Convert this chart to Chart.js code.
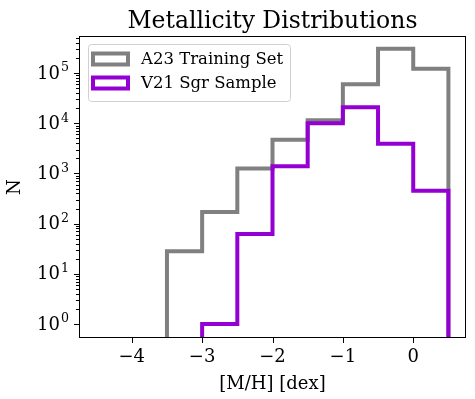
<!DOCTYPE html>
<html>
<head>
<meta charset="utf-8">
<script src="https://cdn.jsdelivr.net/npm/chart.js@4"></script>
<style>
  html, body { margin: 0; padding: 0; background: #fff; }
  #wrap { width: 475px; height: 399px; }
</style>
</head>
<body>
<div id="wrap"><canvas id="c" width="475" height="399"></canvas></div>
<script>
// histogram bins (dex) and counts per bin
const binEdges = [-4.5, -4, -3.5, -3, -2.5, -2, -1.5, -1, -0.5, 0, 0.5];
const a23Counts = [0, 0, 28, 170, 1250, 4700, 11500, 60000, 305000, 122000];
const v21Counts = [0, 0, 0, 1, 62, 1400, 10000, 21000, 3900, 450];
const xTicks = [-4, -3, -2, -1, 0];
const yDecades = [0, 1, 2, 3, 4, 5];

const FONT = "'DejaVu Serif', serif";

// outline of a step histogram, like histtype='step'
function stepPoints(edges, counts) {
  const pts = [];
  let first = counts.findIndex(c => c > 0);
  let last = counts.length - 1;
  while (last > 0 && counts[last] === 0) last--;
  pts.push({ x: edges[first], y: 1e-3 });
  for (let i = first; i <= last; i++) {
    pts.push({ x: edges[i], y: counts[i] || 1e-3 });
    pts.push({ x: edges[i + 1], y: counts[i] || 1e-3 });
  }
  pts.push({ x: edges[last + 1], y: 1e-3 });
  return pts;
}

const frame = {
  id: 'frame',
  afterDraw(chart) {
    const { ctx, chartArea: a, scales } = chart;
    ctx.save();
    // axes box
    ctx.strokeStyle = '#000';
    ctx.lineWidth = 1;
    ctx.strokeRect(a.left + 0.5, a.top + 0.5, a.right - a.left - 1, a.bottom - a.top - 1);
    // tick marks
    ctx.beginPath();
    scales.x.ticks.forEach(t => {
      const px = Math.round(scales.x.getPixelForValue(t.value)) + 0.5;
      ctx.moveTo(px, a.bottom);
      ctx.lineTo(px, a.bottom + 5);
    });
    scales.y.ticks.forEach(t => {
      const py = Math.round(scales.y.getPixelForValue(t.value)) + 0.5;
      const major = t.label !== '';
      ctx.moveTo(a.left, py);
      ctx.lineTo(a.left - (major ? 5 : 3), py);
    });
    ctx.stroke();

    // y tick labels as 10 with a raised exponent
    ctx.fillStyle = '#000';
    ctx.textBaseline = 'middle';
    scales.y.ticks.forEach(t => {
      if (!t.label) return;
      const py = scales.y.getPixelForValue(t.value);
      const exp = t.label;
      ctx.font = '12.6px ' + FONT;
      const ew = ctx.measureText(exp).width;
      ctx.textAlign = 'right';
      ctx.fillText(exp, a.left - 10, py - 5);
      ctx.font = '18px ' + FONT;
      ctx.fillText('10', a.left - 11 - ew, py + 1);
    });

    // title
    ctx.font = '23.5px ' + FONT;
    ctx.textAlign = 'center';
    ctx.textBaseline = 'alphabetic';
    ctx.fillText('Metallicity Distributions', (a.left + a.right) / 2, 28);

    // legend
    const lx = a.left + 9, ly = a.top + 8, lw = 202, lh = 57;
    ctx.beginPath();
    ctx.roundRect(lx + 0.5, ly + 0.5, lw, lh, 3);
    ctx.fillStyle = 'rgba(255,255,255,0.8)';
    ctx.fill();
    ctx.strokeStyle = '#d0d0d0';
    ctx.lineWidth = 1;
    ctx.stroke();
    const items = chart.data.datasets;
    ctx.font = '16.5px ' + FONT;
    ctx.textAlign = 'left';
    ctx.textBaseline = 'middle';
    items.forEach((ds, i) => {
      const cy = ly + 15 + i * 24;
      ctx.strokeStyle = ds.borderColor;
      ctx.lineWidth = 4;
      ctx.strokeRect(lx + 5, cy - 5.5, 35, 11);
      ctx.fillStyle = '#000';
      ctx.fillText(ds.label, lx + 53, cy + 1);
    });
    ctx.restore();
  }
};

new Chart(document.getElementById('c'), {
  type: 'line',
  data: {
    datasets: [
      {
        label: 'A23 Training Set',
        data: stepPoints(binEdges, a23Counts),
        borderColor: '#808080',
        order: 1
      },
      {
        label: 'V21 Sgr Sample',
        data: stepPoints(binEdges, v21Counts),
        borderColor: '#9400d3',
        order: 0
      }
    ]
  },
  options: {
    responsive: false,
    animation: false,
    layout: { padding: { top: 36, right: 9, left: 0, bottom: 0 } },
    elements: {
      line: { borderWidth: 4, tension: 0, fill: false, borderJoinStyle: 'miter', borderCapStyle: 'butt' },
      point: { radius: 0 }
    },
    plugins: {
      legend: { display: false },
      title: { display: false },
      tooltip: { enabled: false }
    },
    scales: {
      x: {
        type: 'linear',
        min: -4.75,
        max: 0.75,
        afterBuildTicks: s => { s.ticks = xTicks.map(v => ({ value: v })); },
        afterFit: s => { s.height = 61; },
        grid: { display: false, drawTicks: false },
        border: { display: false },
        ticks: {
          padding: 9,
          color: '#000',
          font: { family: FONT, size: 18 },
          callback: v => (v < 0 ? '\u2212' + Math.abs(v) : String(v))
        },
        title: {
          display: true,
          text: '[M/H] [dex]',
          color: '#000',
          font: { family: FONT, size: 18 },
          padding: { top: 0 }
        }
      },
      y: {
        type: 'logarithmic',
        min: 0.525,
        max: 550000,
        afterBuildTicks: s => {
          const t = [];
          yDecades.forEach(d => {
            for (let m = 1; m < 10; m++) {
              const v = m * Math.pow(10, d);
              if (v >= s.min && v <= s.max) t.push({ value: v });
            }
          });
          s.ticks = t;
        },
        afterFit: s => { s.width = 79; },
        grid: { display: false, drawTicks: false },
        border: { display: false },
        ticks: {
          autoSkip: false,
          padding: 9,
          color: 'rgba(0,0,0,0)',
          font: { family: FONT, size: 18 },
          callback: v => {
            const d = Math.log10(v);
            return Math.abs(d - Math.round(d)) < 1e-9 ? String(Math.round(d)) : '';
          }
        },
        title: {
          display: true,
          text: 'N',
          color: '#000',
          font: { family: FONT, size: 18 },
          padding: { top: 5, bottom: 4 }
        }
      }
    }
  },
  plugins: [frame]
});
</script>
</body>
</html>
